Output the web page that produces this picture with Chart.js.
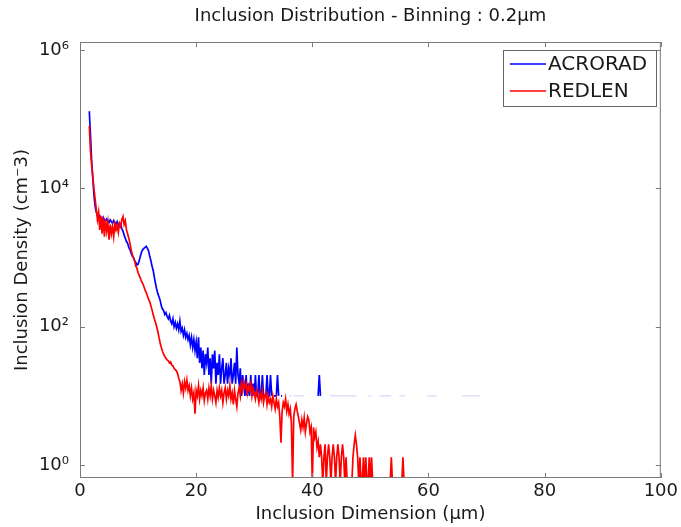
<!DOCTYPE html>
<html><head><meta charset="utf-8">
<script src="https://cdn.jsdelivr.net/npm/chart.js@4.4.0/dist/chart.umd.min.js"></script>
<style>html,body{margin:0;padding:0;background:#fff;}</style>
</head><body>
<canvas id="c" width="681" height="527"></canvas>
<script>
const _ = null;
const titleText = 'Inclusion Distribution - Binning : 0.2\u00b5m';
const xTitle = 'Inclusion Dimension (\u00b5m)';
const yTitle = 'Inclusion Density (cm\u207b3)';
const seriesNames = ['ACRORAD', 'REDLEN'];
const binStart = 1.6;   // first bin centre (µm)
const binWidth = 0.2;   // bin width (µm)
const xTicks = [0, 20, 40, 60, 80, 100];
const yTicks = [1, 100, 10000, 1000000];
const yTickLabels = ['10\u2070', '10\u00b2', '10\u2074', '10\u2076'];

// ACRORAD density per bin (cm^-3); null = empty bin
const acrorad = [
  130000, 60000, 25000, 14000, 8000, 5500, 4500, 4200, 3600, 4000,
  3700, 3400, 3800, 3500, 3300, 3600, 3400, 3200, 3500, 3300,
  3100, 3400, 3200, 3000, 3300, 3000, 2800, 3000, 2600, 2400,
  2100, 1900, 1700, 1600, 1400, 1300, 1150, 1050, 1000, 900,
  850, 780, 800, 900, 1050, 1200, 1300, 1350, 1400, 1450,
  1350, 1250, 1050, 900, 750, 650, 520, 420, 350, 300,
  270, 240, 200, 180, 170, 150, 160, 140, 130, 145,
  120, 110, 130, 100, 115, 95, 110, 90, 120, 85,
  95, 75, 90, 70, 80, 65, 75, 55, 70, 50,
  65, 45, 60, 35, 70, 30, 50, 25, 45, 20,
  40, 30, 50, 20, 35, 15, 40, 25, 45, 15,
  30, 20, 40, 15, 25, 35, 15, 20, 30, 15,
  25, 20, 35, 15, 20, 30, 15, 50, 20, 15,
  25, 10, 20, 15, 10, 20, 10, 15, 10, 20,
  10, 15, 10, 20, 10, 10, 20, 10, 10, 20,
  10, _, 10, 20, 10, 10, 20, 10, _, 10,
  10, 10, 20, 10, _, 10, 10, _, 10, 10,
  _, _, 10, 10, 10, _, 10, 10, 10, 10,
  10, 10, 10, 10, 10, 10, _, _, _, _,
  _, _, _, _, _, _, _, 10, 20, 10,
  _, _, _, _, _, _, _, 10, 10, 10,
  10, 10, 10, 10, 10, 10, 10, 10, 10, 10,
  10, 10, 10, 10, 10, 10, 10, 10, 10, 10,
  10, _, _, _, _, _, _, _, _, _,
  10, 10, 10, 10, _, _, _, _, _, _,
  10, 10, 10, 10, 10, 10, 10, 10, 10, 10,
  10, _, _, _, _, _, _, 10, 10, 10,
  10, 10, 10, _, _, _, _, _, _, _,
  _, _, _, _, _, _, _, _, _, _,
  _, 10, 10, 10, 10, 10, 10, 10, 10, 10,
  _, _, _, _, _, _, _, _, _, _,
  _, _, _, _, _, _, _, _, _, _,
  _, 10, 10, 10, 10, 10, 10, 10, 10, 10,
  10, 10, 10, 10, 10, 10, 10
];

// REDLEN density per bin (cm^-3); null = empty bin
const redlen = [
  80000, 35000, 22000, 15000, 10000, 7000, 5000, 3500, 4500, 2500,
  4000, 2200, 3800, 2000, 3500, 2400, 3200, 1800, 3000, 2200,
  2800, 2000, 3000, 2500, 2900, 2300, 3100, 2800, 3500, 3900,
  3000, 3400, 2500, 2200, 1900, 1600, 1300, 1100, 1000, 900,
  750, 700, 600, 550, 500, 450, 420, 380, 340, 310,
  280, 250, 230, 200, 175, 150, 130, 115, 100, 85,
  70, 58, 50, 44, 40, 37, 35, 33, 32, 30,
  31, 28, 27, 25, 24, 23, 21, 18, 16, 12,
  15, 11, 16, 13, 17, 12, 14, 10, 13, 9,
  11, 5.5, 12, 10, 14, 9, 12, 10, 13, 8.5,
  11, 12, 9, 13, 10, 14, 9, 12, 10, 8,
  12, 9.5, 13, 10, 12, 8, 11, 13, 9, 12,
  10, 14, 9, 11, 7.5, 12, 9, 7, 11, 13,
  10, 15, 12, 16, 13, 15, 11, 14, 12, 15,
  10, 13, 11, 9, 12, 10, 8, 11, 9, 12,
  8, 10, 11, 7.5, 10, 8, 9, 7, 10, 8,
  6.5, 9, 7, 8, 5, 2.1, 6, 8, 7, 9,
  6, 7.5, 5.5, 6.5, 4, 0.55, 5, 6.5, 7.5, 6,
  5, 4, 3.2, 4.5, 3.5, 4.8, 3, 4, 5, 4.5,
  3, 3.5, 0.55, 3.5, 2.5, 3, 1.8, 2.2, 1.3, 2,
  1.3, 0.55, 1.3, 2, 0.55, 1.3, 2, 1.3, 0.55, 1.3,
  2, 1.3, 0.55, 1.3, 2, 1.3, 0.55, 1.3, 2, 1.3,
  0.55, 1.3, 0.55, 0.55, 0.55, 0.55, 0.55, 1.3, 2, 2.7,
  2, 1.3, 0.55, 1.3, 0.55, 0.55, 1.3, 0.55, 1.3, 0.55,
  0.55, 1.3, 0.55, 1.3, 0.55, 0.55, _, _, _, _,
  _, _, _, _, _, _, _, _, _, 0.55,
  1.3, 0.55, _, _, _, _, _, _, _, 0.55,
  1.3, 0.55
];

const toPoints = vals => vals.map((v, i) => ({ x: +(binStart + i * binWidth).toFixed(1), y: v }));

const FONT = 'DejaVu Sans';
const TXT = '#1a1a1a';
const AXIS = '#7a7a7a';

const frame = {
  id: 'frame',
  afterDatasetsDraw(chart) {
    const { ctx, chartArea: a, scales: { x, y } } = chart;
    ctx.save();
    ctx.strokeStyle = AXIS;
    ctx.lineWidth = 1;
    ctx.strokeRect(a.left + 0.5, a.top + 0.5, a.right - a.left - 1, a.bottom - a.top - 1);
    const tl = 5;
    ctx.beginPath();
    xTicks.forEach(v => {
      const px = Math.round(x.getPixelForValue(v)) + 0.5;
      ctx.moveTo(px, a.bottom); ctx.lineTo(px, a.bottom - tl);
      ctx.moveTo(px, a.top); ctx.lineTo(px, a.top + tl);
    });
    yTicks.forEach(v => {
      const py = Math.round(y.getPixelForValue(v)) + 0.5;
      ctx.moveTo(a.left, py); ctx.lineTo(a.left + tl, py);
      ctx.moveTo(a.right, py); ctx.lineTo(a.right - tl, py);
    });
    ctx.stroke();

    // legend box
    const bx = 503, by = 50, bw = 153, bh = 56;
    ctx.fillStyle = '#fff';
    ctx.fillRect(bx, by, bw, bh);
    ctx.strokeStyle = '#666';
    ctx.strokeRect(bx + 0.5, by + 0.5, bw, bh);
    const ds = chart.data.datasets;
    const rows = [64, 91];
    ctx.font = '20px "' + FONT + '"';
    ctx.textBaseline = 'middle';
    ctx.textAlign = 'left';
    ds.forEach((d, i) => {
      ctx.strokeStyle = d.borderColor;
      ctx.lineWidth = 1.5;
      ctx.beginPath();
      ctx.moveTo(510, rows[i]); ctx.lineTo(546, rows[i]);
      ctx.stroke();
      ctx.fillStyle = TXT;
      ctx.fillText(d.label, 548, rows[i] + 1);
    });
    ctx.restore();
  }
};

new Chart(document.getElementById('c'), {
  type: 'line',
  data: {
    datasets: [
      {
        label: seriesNames[0], data: toPoints(acrorad), borderColor: '#0000ff', order: 2,
        segment: {
          borderColor: c => (c.p0.parsed.x > 35 && !(c.p0.parsed.x > 40.9 && c.p0.parsed.x < 41.5)) ? 'rgba(90,90,230,0.3)' : undefined,
          borderWidth: c => (c.p0.parsed.x > 35 && !(c.p0.parsed.x > 40.9 && c.p0.parsed.x < 41.5)) ? 1 : undefined
        }
      },
      { label: seriesNames[1], data: toPoints(redlen), borderColor: '#ff0000', order: 1 }
    ]
  },
  options: {
    responsive: false,
    animation: false,
    spanGaps: false,
    elements: { point: { radius: 0 }, line: { borderWidth: 1.7, tension: 0 } },
    layout: { padding: { left: 0, right: 20, top: 0, bottom: 0 } },
    plugins: {
      legend: { display: false },
      tooltip: { enabled: false },
      title: {
        display: true, text: titleText, color: TXT, fullSize: false,
        font: { family: FONT, size: 18, weight: 'normal', lineHeight: 1.2 },
        padding: { top: 6, bottom: 14.4 }
      }
    },
    scales: {
      x: {
        type: 'linear', min: 0, max: 100,
        grid: { display: false, drawTicks: false }, border: { display: false },
        afterBuildTicks: s => { s.ticks = xTicks.map(v => ({ value: v })); },
        afterFit: s => { s.height = 49; },
        ticks: { color: TXT, padding: 3, maxRotation: 0, font: { family: FONT, size: 18, lineHeight: 1.2 } },
        title: { display: true, text: xTitle, color: TXT, font: { family: FONT, size: 18, lineHeight: 1.2 }, padding: { top: 0, bottom: 2 } }
      },
      y: {
        type: 'logarithmic', min: 0.65, max: 1.3e6,
        grid: { display: false, drawTicks: false }, border: { display: false },
        afterBuildTicks: s => { s.ticks = yTicks.map(v => ({ value: v })); },
        afterFit: s => { s.width = 80; },
        ticks: {
          color: TXT, padding: 11, font: { family: FONT, size: 18, lineHeight: 1.2 },
          callback: (v) => { const k = yTicks.indexOf(v); return k >= 0 ? yTickLabels[k] : ''; }
        },
        title: { display: true, text: yTitle, color: TXT, font: { family: FONT, size: 18, lineHeight: 1.2 }, padding: { top: 12, bottom: 0 } }
      }
    }
  },
  plugins: [frame]
});
</script>
</body></html>
